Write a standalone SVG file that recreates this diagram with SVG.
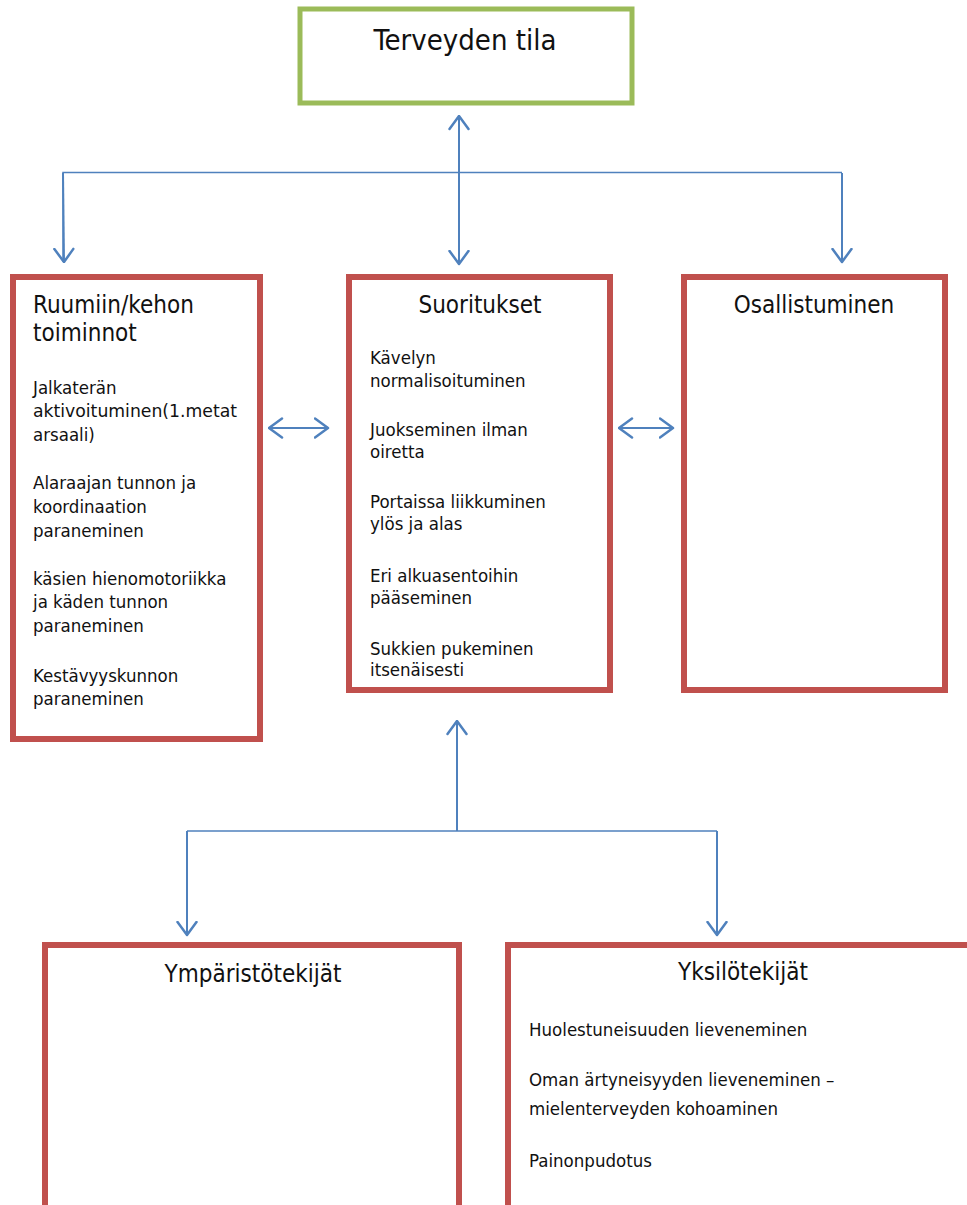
<svg xmlns="http://www.w3.org/2000/svg" width="967" height="1205" viewBox="0 0 967 1205">
<style>
.box{fill:#fff;stroke:#C0504D;stroke-width:6}
.green{fill:#fff;stroke:#9BBB59;stroke-width:5}
.t{font-family:"DejaVu Sans Condensed","DejaVu Sans",sans-serif;font-stretch:condensed;fill:#111}
.h{font-size:24px}
.b{font-size:18.5px}
.c{text-anchor:middle}
.ln{fill:none;stroke:#4F81BD;stroke-width:2}
.thin{fill:none;stroke:#4F81BD;stroke-width:1.5}
</style>
<defs>
<marker id="ah" viewBox="0 0 16 22" refX="14.5" refY="11" markerWidth="16" markerHeight="22" markerUnits="userSpaceOnUse" orient="auto-start-reverse">
<path d="M1.5,1.5 L14.5,11 L1.5,20.5" fill="none" stroke="#4F81BD" stroke-width="2.5" stroke-linecap="round" stroke-linejoin="round"/>
</marker>
</defs>
<rect width="967" height="1205" fill="#fff"/>

<g id="connectors">
<line class="ln" x1="459" y1="116" x2="459" y2="264" marker-start="url(#ah)" marker-end="url(#ah)"/>
<polyline class="thin" points="63,262 63,172.5 842,172.5"/>
<line class="ln" x1="63" y1="173" x2="64" y2="262" marker-end="url(#ah)"/>
<line class="ln" x1="842" y1="173" x2="842" y2="262" marker-end="url(#ah)"/>
<line class="ln" x1="269" y1="428" x2="328" y2="428" marker-start="url(#ah)" marker-end="url(#ah)"/>
<line class="ln" x1="619" y1="428" x2="673" y2="428" marker-start="url(#ah)" marker-end="url(#ah)"/>
<line class="ln" x1="457" y1="831" x2="457" y2="721" marker-end="url(#ah)"/>
<polyline class="thin" points="187,831 717,831"/>
<line class="ln" x1="187" y1="831" x2="187" y2="935" marker-end="url(#ah)"/>
<line class="ln" x1="717" y1="831" x2="717" y2="935" marker-end="url(#ah)"/>
</g>

<g id="terveyden-tila">
<rect class="green" x="300" y="9" width="332" height="94"/>
<text class="t c" x="465" y="50" font-size="29">Terveyden tila</text>
</g>

<g id="ruumiin-kehon-toiminnot">
<rect class="box" x="13" y="277" width="247" height="462"/>
<text class="t h" x="33" y="313">Ruumiin/kehon</text>
<text class="t h" x="33" y="341">toiminnot</text>
<text class="t b" x="33" y="394">Jalkaterän</text>
<text class="t b" x="33" y="417" textLength="204" lengthAdjust="spacingAndGlyphs">aktivoituminen(1.metat</text>
<text class="t b" x="33" y="441">arsaali)</text>
<text class="t b" x="33" y="489">Alaraajan tunnon ja</text>
<text class="t b" x="33" y="513">koordinaation</text>
<text class="t b" x="33" y="537">paraneminen</text>
<text class="t b" x="33" y="585">käsien hienomotoriikka</text>
<text class="t b" x="33" y="608">ja käden tunnon</text>
<text class="t b" x="33" y="632">paraneminen</text>
<text class="t b" x="33" y="682">Kestävyyskunnon</text>
<text class="t b" x="33" y="705">paraneminen</text>
</g>

<g id="suoritukset">
<rect class="box" x="349" y="277" width="261" height="413"/>
<text class="t h c" x="480" y="313">Suoritukset</text>
<text class="t b" x="370" y="364">Kävelyn</text>
<text class="t b" x="370" y="387">normalisoituminen</text>
<text class="t b" x="370" y="436">Juokseminen ilman</text>
<text class="t b" x="370" y="458">oiretta</text>
<text class="t b" x="370" y="508">Portaissa liikkuminen</text>
<text class="t b" x="370" y="530">ylös ja alas</text>
<text class="t b" x="370" y="582">Eri alkuasentoihin</text>
<text class="t b" x="370" y="604">pääseminen</text>
<text class="t b" x="370" y="655">Sukkien pukeminen</text>
<text class="t b" x="370" y="676">itsenäisesti</text>
</g>

<g id="osallistuminen">
<rect class="box" x="684" y="277" width="261" height="413"/>
<text class="t h c" x="814" y="313">Osallistuminen</text>
</g>

<g id="ymparistotekijat">
<rect class="box" x="45" y="945" width="414" height="300"/>
<text class="t h c" x="253" y="982">Ympäristötekijät</text>
</g>

<g id="yksilotekijat">
<rect class="box" x="508" y="945" width="500" height="300"/>
<text class="t h c" x="743" y="980">Yksilötekijät</text>
<text class="t b" x="529" y="1036">Huolestuneisuuden lieveneminen</text>
<text class="t b" x="529" y="1086">Oman ärtyneisyyden lieveneminen –</text>
<text class="t b" x="529" y="1115">mielenterveyden kohoaminen</text>
<text class="t b" x="529" y="1167">Painonpudotus</text>
</g>
</svg>
